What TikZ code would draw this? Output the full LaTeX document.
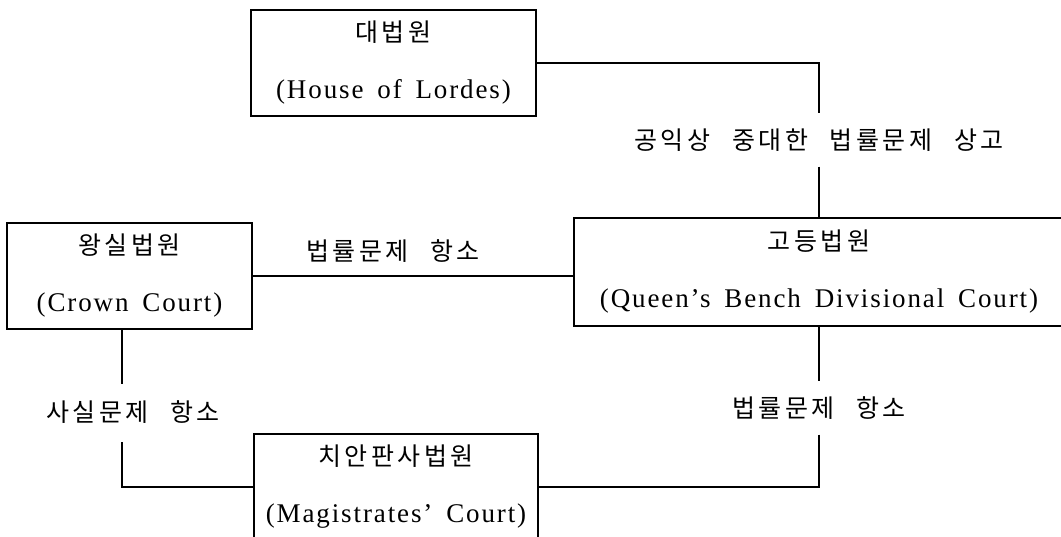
\documentclass[tikz,border=0pt]{standalone}
\usepackage{fontspec}
\setmainfont{Liberation Serif}[LetterSpace=7, WordSpace=1.6]
\newfontfamily\kr{Noto Sans CJK KR}[LetterSpace=14, WordSpace=2.4]
\begin{document}
\begin{tikzpicture}[x=1pt, y=-1pt,
  court/.style={draw, line width=1.2pt, align=center, minimum height=106pt, inner sep=0pt,
    font=\fontsize{27}{57}\selectfont},
  lab/.style={font=\kr\fontsize{25}{28}\selectfont, inner sep=0pt},
  conn/.style={line width=1.2pt}]
\clip (0,0) rectangle (1061,537);
\node[court, minimum width=285pt] (hol) at (393.5,63)
  {{\kr\fontsize{25}{57}\selectfont 대법원}\\(House of Lordes)};
\node[court, minimum width=245pt] (crown) at (129.5,276)
  {{\kr\fontsize{25}{57}\selectfont 왕실법원}\\(Crown Court)};
\node[court, minimum width=490pt, minimum height=108pt] (hc) at (819,272)
  {{\kr\fontsize{25}{57}\selectfont 고등법원}\\(Queen’s Bench Divisional Court)};
\node[court, minimum width=284pt] (mag) at (396,487)
  {{\kr\fontsize{25}{57}\selectfont 치안판사법원}\\(Magistrates’ Court)};
\node[lab, minimum height=53pt] (l1) at (819,140) {공익상 중대한 법률문제 상고};
\node[lab] (l2) at (393,251) {법률문제 항소};
\node[lab] (l3) at (133,412) {사실문제 항소};
\node[lab, minimum height=53pt] (l4) at (819,408) {법률문제 항소};
\coordinate (c3) at (122,384);
\coordinate (c4) at (122,442);
\draw[conn] (hol.east) -| (l1.north);
\draw[conn] (l1.south) -- (hc.north);
\draw[conn] (crown.east) -- (crown.east -| hc.west);
\draw[conn] (crown.south -| c3) -- (c3);
\draw[conn] (c4) |- (mag.west);
\draw[conn] (hc.south) -- (l4.north);
\draw[conn] (l4.south) |- (mag.east);
\end{tikzpicture}
\end{document}
